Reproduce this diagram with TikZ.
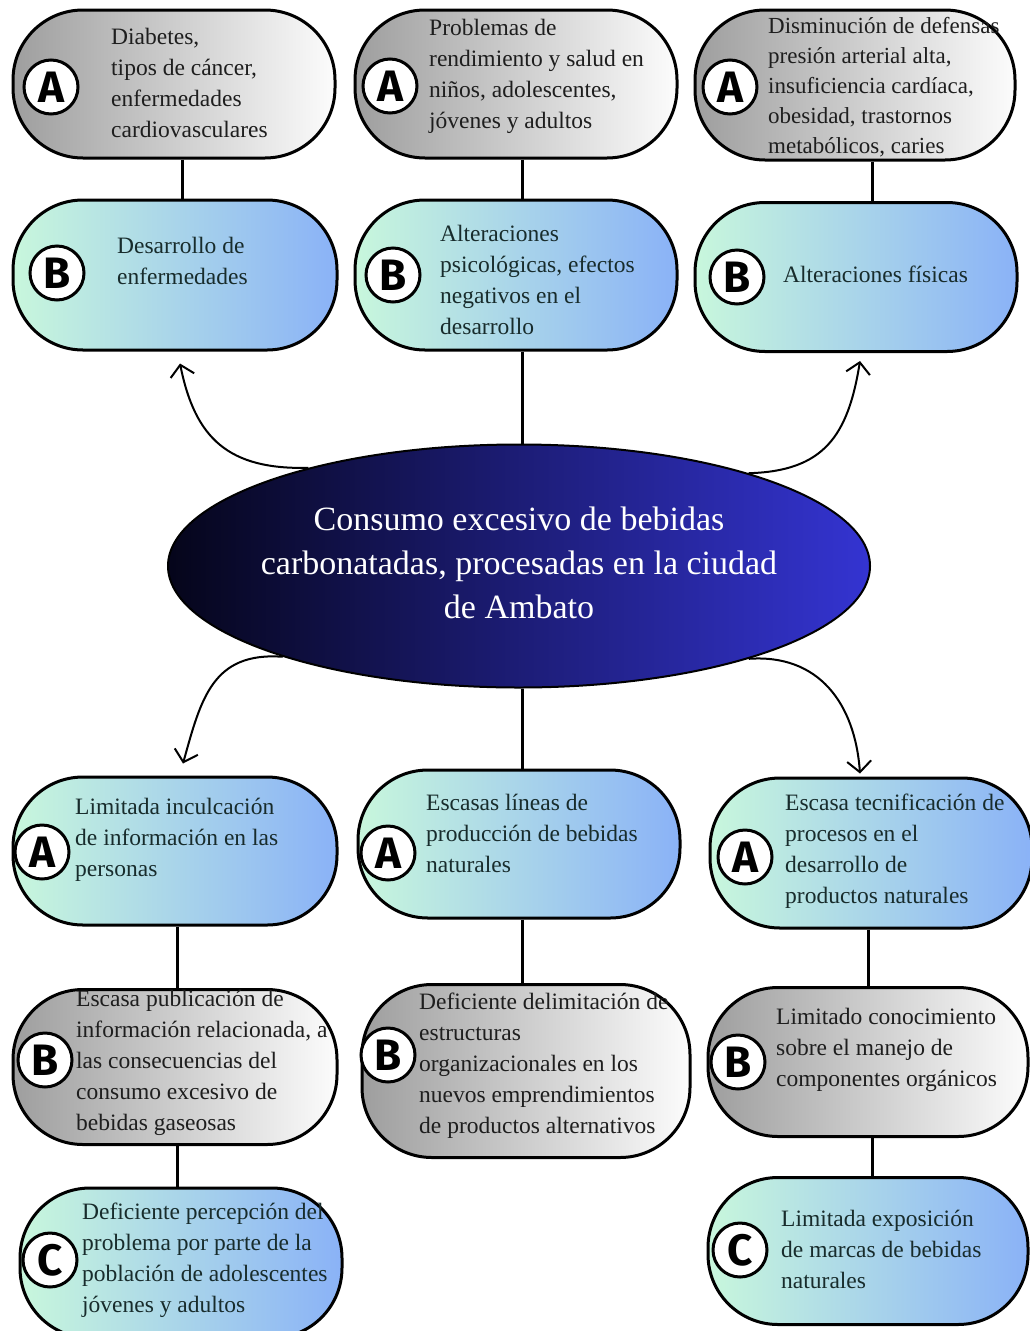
\documentclass[tikz,border=0pt]{standalone}
\usepackage{fontspec}
\setmainfont{Liberation Serif}
\newfontfamily\letfont{Fira Sans}
\usetikzlibrary{shapes.geometric,arrows.meta}
\definecolor{mint}{HTML}{C8F7DC}
\definecolor{cblue}{HTML}{8AB2F7}
\definecolor{gdark}{HTML}{9E9E9E}
\definecolor{gwhite}{HTML}{FCFCFC}
\definecolor{eleft}{HTML}{05051A}
\definecolor{eright}{HTML}{3434D2}
\definecolor{txtg}{HTML}{1E1E1E}
\definecolor{txtb}{HTML}{182C2C}
\begin{document}
\begin{tikzpicture}[x=1pt,y=-1pt,
 boxbase/.style={draw=black, line width=3pt, rounded corners=70pt, inner sep=0pt, minimum width=322pt, minimum height=148pt},
 gbox/.style={boxbase, left color=gdark, right color=gwhite},
 bbox/.style={boxbase, left color=mint, right color=cblue},
 letter/.style={circle, draw=black, line width=3pt, fill=white, minimum size=54pt, inner sep=0pt, font=\letfont\bfseries\fontsize{44}{44}\selectfont},
 gtxt/.style={anchor=west, align=left, inner sep=0pt, text=txtg, font=\fontsize{23.5}{31}\selectfont},
 btxt/.style={gtxt, text=txtb},
 conn/.style={line width=3pt},
 carrow/.style={line width=2pt, -{Straight Barb[length=11pt,width=24pt,line width=2pt]}},
]
\useasboundingbox (0,0) rectangle (1030,1331);
% top row
\node[gbox, minimum width=322pt, minimum height=148pt] (tA1) at (174,84) {};
\node[gbox, minimum width=322pt, minimum height=148pt] (tA2) at (516,84) {};
\node[gbox, minimum width=320pt, minimum height=150pt] (tA3) at (855,85) {};
\node[bbox, minimum width=324pt, minimum height=150pt] (tB1) at (175,275) {};
\node[bbox, minimum width=322pt, minimum height=150pt] (tB2) at (516,275) {};
\node[bbox, minimum width=322pt, minimum height=149pt] (tB3) at (856,277) {};
% central ellipse
\node[ellipse, draw=black, line width=2pt, left color=eleft, right color=eright, minimum width=702pt, minimum height=243pt, inner sep=0pt] (E) at (519,566) {};
% bottom rows
\node[bbox, minimum width=324pt, minimum height=148pt] (bA1) at (175,851) {};
\node[bbox, minimum width=322pt, minimum height=148pt] (bA2) at (519,844) {};
\node[bbox, minimum width=322pt, minimum height=150pt] (bA3) at (871,853) {};
\node[gbox, minimum width=324pt, minimum height=155pt] (bB1) at (175,1067) {};
\node[gbox, minimum width=328pt, minimum height=173pt] (bB2) at (526,1071) {};
\node[gbox, minimum width=320pt, minimum height=149pt] (bB3) at (868,1062) {};
\node[bbox, minimum width=322pt, minimum height=150pt] (bC1) at (181,1263) {};
\node[bbox, minimum width=320pt, minimum height=147pt] (bC3) at (868,1251) {};
% connectors
\draw[conn] ([xshift=8pt]tA1.south) -- ([xshift=8pt]tA1.south |- tB1.north);
\draw[conn] ([xshift=6pt]tA2.south) -- ([xshift=6pt]tA2.south |- tB2.north);
\draw[conn] ([xshift=17pt]tA3.south) -- ([xshift=17pt]tA3.south |- tB3.north);
\draw[conn] ([xshift=6pt]tB2.south) -- ([xshift=6pt]tB2.south |- E.north);
\draw[conn] ([xshift=3pt]E.south) -- ([xshift=3pt]E.south |- bA2.north);
\draw[conn] ([xshift=2pt]bA1.south) -- ([xshift=2pt]bA1.south |- bB1.north);
\draw[conn] ([xshift=2pt]bB1.south) -- ([xshift=2pt]bB1.south |- bC1.north);
\draw[conn] ([xshift=3pt]bA2.south) -- ([xshift=3pt]bA2.south |- bB2.north);
\draw[conn] ([xshift=-3pt]bA3.south) -- ([xshift=-3pt]bA3.south |- bB3.north);
\draw[conn] ([xshift=4pt]bB3.south) -- ([xshift=4pt]bB3.south |- bC3.north);
% curved arrows
\coordinate (h1) at ([xshift=5pt,yshift=-12pt]tB1.south);
\coordinate (h2) at ([xshift=4pt,yshift=-8pt]tB3.south);
\coordinate (h3) at ([xshift=8pt,yshift=12pt]bA1.north);
\coordinate (h4) at ([xshift=-11pt,yshift=3pt]bA3.north);
\draw[carrow] (E.155) .. controls +(-80,2) and +(15,75) .. (h1);
\draw[carrow] (E.22) .. controls +(75,-2) and +(-12,75) .. (h2);
\draw[carrow] (E.201) .. controls +(-70,-5) and +(18,-65) .. (h3);
\draw[carrow] (E.338) .. controls +(70,-5) and +(-5,-70) .. (h4);
% letters
\node[letter] (cA1) at (51,87) {A};
\node[letter] (cA2) at (390,86) {A};
\node[letter] (cA3) at (730,87) {A};
\node[letter] (cB1) at (57,273) {B};
\node[letter] (cB2) at (393,275) {B};
\node[letter] (cB3) at (737,277) {B};
\node[letter] (dA1) at (42,852) {A};
\node[letter] (dA2) at (388,853) {A};
\node[letter] (dA3) at (745,857) {A};
\node[letter] (dB1) at (45,1060) {B};
\node[letter] (dB2) at (388,1055) {B};
\node[letter] (dB3) at (738,1062) {B};
\node[letter] (dC1) at (50,1260) {C};
\node[letter] (dC3) at (740,1250) {C};
% texts
\node[gtxt] (x1) at (111,83) {Diabetes,\\tipos de cáncer,\\enfermedades\\cardiovasculares};
\node[btxt] (x2) at (117,261) {Desarrollo de\\enfermedades};
\node[gtxt] (x3) at (429,76) {Problemas de\\rendimiento y salud en\\niños, adolescentes,\\jóvenes y adultos};
\node[btxt] (x4) at (440,280) {Alteraciones\\psicológicas, efectos\\negativos en el\\desarrollo};
\node[gtxt, font=\fontsize{23}{30}\selectfont] (x5) at (768,87) {Disminución de defensas\\presión arterial alta,\\insuficiencia cardíaca,\\obesidad, trastornos\\metabólicos, caries};
\node[btxt] (x6) at (783,274) {Alteraciones físicas};
\node[align=center, inner sep=0pt, text=white, font=\fontsize{34}{44}\selectfont] (x7) at (519,563) {Consumo excesivo de bebidas\\carbonatadas, procesadas en la ciudad\\de Ambato};
\node[btxt] (x8) at (75,840) {Limitada inculcación\\de información en las\\personas};
\node[btxt] (x9) at (426,833) {Escasas líneas de\\producción de bebidas\\naturales};
\node[btxt] (x10) at (785,851) {Escasa tecnificación de\\procesos en el\\desarrollo de\\productos naturales};
\node[gtxt] (x11) at (76,1063) {Escasa publicación de\\información relacionada, a\\las consecuencias del\\consumo excesivo de\\bebidas gaseosas};
\node[gtxt] (x12) at (419,1066) {Deficiente delimitación de\\estructuras\\organizacionales en los\\nuevos emprendimientos\\de productos alternativos};
\node[gtxt] (x13) at (776,1050) {Limitado conocimiento\\sobre el manejo de\\componentes orgánicos};
\node[btxt] (x14) at (82,1260) {Deficiente percepción del\\problema por parte de la\\población de adolescentes\\jóvenes y adultos};
\node[btxt] (x15) at (781,1249) {Limitada exposición\\de marcas de bebidas\\naturales};
\end{tikzpicture}
\end{document}
